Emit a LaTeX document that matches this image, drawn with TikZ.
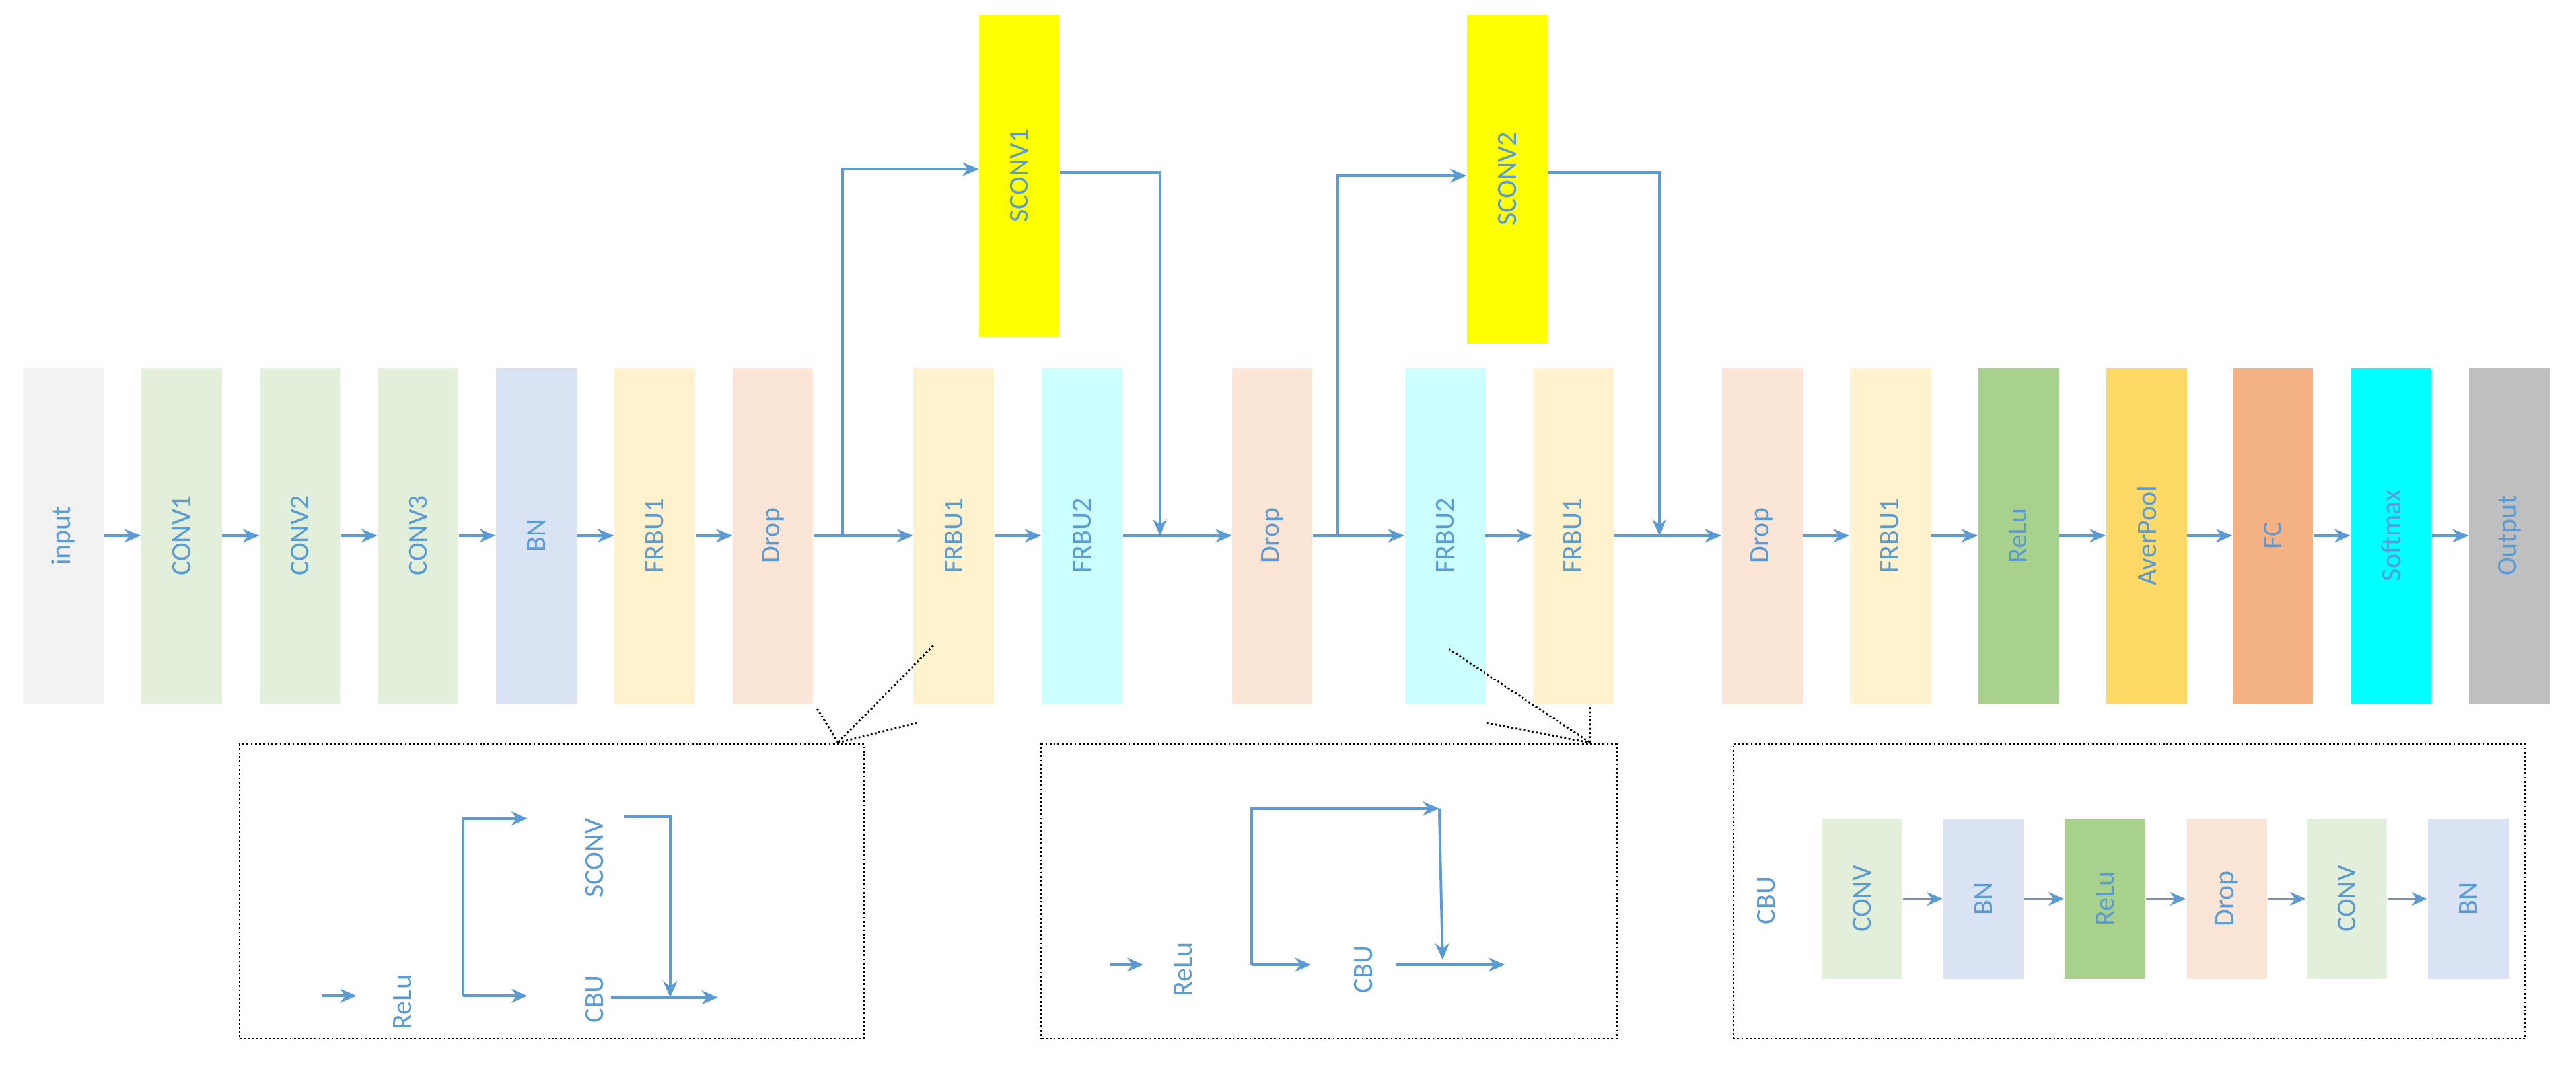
\documentclass[tikz,border=0pt]{standalone}
\usepackage{fontspec}
\setmainfont{Carlito}
\usetikzlibrary{arrows.meta}
\definecolor{tb}{HTML}{5B9BD5}
\definecolor{cin}{HTML}{F2F2F2}
\definecolor{cconv}{HTML}{E2EFDA}
\definecolor{cbn}{HTML}{DAE3F3}
\definecolor{cfr1}{HTML}{FFF2CC}
\definecolor{cdrop}{HTML}{FBE5D6}
\definecolor{cfr2}{HTML}{CCFFFF}
\definecolor{crelu}{HTML}{A9D18E}
\definecolor{cavg}{HTML}{FFD966}
\definecolor{cfc}{HTML}{F4B183}
\definecolor{csm}{HTML}{00FFFF}
\definecolor{cout}{HTML}{BFBFBF}
\definecolor{csc}{HTML}{FFFF00}
\begin{document}
\begin{tikzpicture}[x=0.025cm,y=-0.025cm,
  blk/.style={draw=none,minimum width=1.225cm,minimum height=5.1cm,inner sep=0,text=tb,font=\fontsize{12}{14}\selectfont},
  sblk/.style={blk,minimum height=2.45cm},
  lbl/.style={text=tb,font=\fontsize{12}{14}\selectfont,rotate=90},
  arr/.style={draw=tb,line width=1.1pt,-{Stealth[length=7pt,width=6pt]}},
  ln/.style={draw=tb,line width=1.1pt},
  dotl/.style={draw=black,densely dotted,line width=0.8pt}]
\useasboundingbox (0,0) rectangle (1568,648);
\newcommand\blkn[5]{\node[blk,fill=#3] (#1) at (#2,326) {\rotatebox{90}{#4}};}
\blkn{in}{38.5}{cin}{input}{}
\blkn{c1}{110.5}{cconv}{CONV1}{}
\blkn{c2}{182.5}{cconv}{CONV2}{}
\blkn{c3}{254.5}{cconv}{CONV3}{}
\blkn{bn}{326.5}{cbn}{BN}{}
\blkn{f1}{398.5}{cfr1}{FRBU1}{}
\blkn{d1}{470.5}{cdrop}{Drop}{}
\blkn{f2}{580.5}{cfr1}{FRBU1}{}
\blkn{f3}{658.5}{cfr2}{FRBU2}{}
\blkn{d2}{774.5}{cdrop}{Drop}{}
\blkn{f4}{879.5}{cfr2}{FRBU2}{}
\blkn{f5}{957.5}{cfr1}{FRBU1}{}
\blkn{d3}{1072.5}{cdrop}{Drop}{}
\blkn{f6}{1150.5}{cfr1}{FRBU1}{}
\blkn{re}{1228.5}{crelu}{ReLu}{}
\blkn{av}{1306.5}{cavg}{AverPool}{}
\blkn{fc}{1383.5}{cfc}{FC}{}
\blkn{sm}{1455.5}{csm}{Softmax}{}
\blkn{ou}{1527.5}{cout}{Output}{}
\node[blk,fill=csc,minimum height=4.9cm] (s1) at (620.5,107) {\rotatebox{90}{SCONV1}};
\node[blk,fill=csc,minimum height=5cm] (s2) at (917.5,109) {\rotatebox{90}{SCONV2}};
% main arrows
\foreach \a/\b in {in/c1,c1/c2,c2/c3,c3/bn,bn/f1,f1/d1,d1/f2,f2/f3,f3/d2,d2/f4,f4/f5,f5/d3,d3/f6,f6/re,re/av,av/fc,fc/sm,sm/ou}
  \draw[arr] (\a.east) -- (\b.west);
% skips
\coordinate (k1) at (513,326);
\coordinate (m1) at (706,326);
\coordinate (k2) at (814,326);
\coordinate (m2) at (1010,326);
\draw[arr] (k1) |- ([yshift=0.1cm]s1.west);
\draw[arr] ([yshift=0.05cm]s1.east) -| (m1);
\draw[arr] (k2) |- ([yshift=0.05cm]s2.west);
\draw[arr] ([yshift=0.1cm]s2.east) -| (m2);
% dotted boxes
\node[dotl,draw,minimum width=9.5cm,minimum height=4.475cm,inner sep=0] (b1) at (336,542.5) {};
\node[dotl,draw,minimum width=8.75cm,minimum height=4.475cm,inner sep=0] (b2) at (809,542.5) {};
\node[dotl,draw,minimum width=12.05cm,minimum height=4.475cm,inner sep=0] (b3) at (1296,542.5) {};
\coordinate (z1) at (510,452);
\draw[dotl] (568,393) -- (z1);
\draw[dotl] (d1.south) ++(27,3) -- (z1);
\draw[dotl] (558,440) -- (z1);
\coordinate (z2) at (968,452);
\draw[dotl] (882,395) -- (z2);
\draw[dotl] (905,440) -- (z2);
\draw[dotl] (f5.south) ++(10,2) -- (z2);
% box1
\node[lbl] (r1) at (245,610) {ReLu};
\node[lbl] (sc) at (362,522) {SCONV};
\node[lbl] (cb1) at (362,608) {CBU};
\coordinate (a1) at (196,606);
\coordinate (j1) at (282,606);
\coordinate (e1) at (437,607);
\draw[arr] (a1) -- ++(21,0);
\draw[arr] (j1) -- (321,606);
\draw[arr] (j1) |- (321,498);
\draw[arr] (380,497) -| (408,607);
\draw[arr] (372,607) -- (e1);
% box2
\node[lbl] (r2) at (720,590) {ReLu};
\node[lbl] (cb2) at (830,590) {CBU};
\coordinate (j2) at (762,587);
\draw[arr] (676,587) -- (696,587);
\draw[arr] (j2) -- (798,587);
\draw[arr] (j2) |- (876,492);
\draw[arr] (876,492) -- (878,584);
\draw[arr] (850,587) -- (916,587);
% box3
\node[lbl] (cb3) at (1075,548) {CBU};
\newcommand\sbn[4]{\node[sblk,fill=#3] (#1) at (#2,547) {\rotatebox{90}{#4}};}
\sbn{q1}{1133.5}{cconv}{CONV}
\sbn{q2}{1207.5}{cbn}{BN}
\sbn{q3}{1281.5}{crelu}{ReLu}
\sbn{q4}{1355.5}{cdrop}{Drop}
\sbn{q5}{1428.5}{cconv}{CONV}
\sbn{q6}{1502.5}{cbn}{BN}
\foreach \a/\b in {q1/q2,q2/q3,q3/q4,q4/q5,q5/q6}
  \draw[arr] (\a.east) -- (\b.west);
\end{tikzpicture}
\end{document}
